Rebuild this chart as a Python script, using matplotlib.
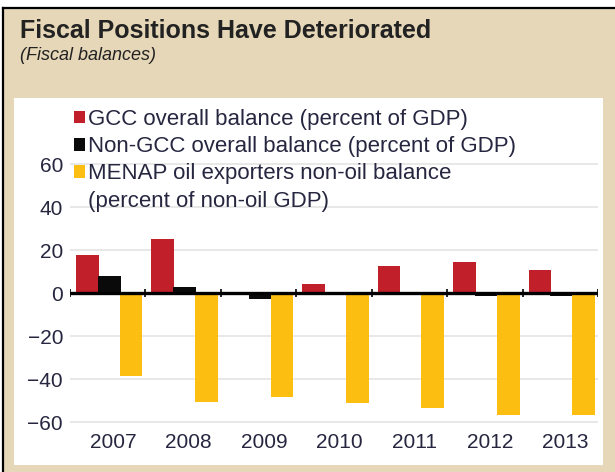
import numpy as np
import matplotlib
matplotlib.use("Agg")
from matplotlib import pyplot as plt
from matplotlib.patches import Rectangle, Patch
from matplotlib.lines import Line2D

# values
years = ["2007", "2008", "2009", "2010", "2011", "2012", "2013"]
gcc = [18.0, 25.0, -0.4, 4.5, 12.6, 14.4, 11.0]
non_gcc = [7.8, 2.8, -2.8, 0.5, 0.2, -1.2, -1.2]
menap = [-38.5, -50.5, -48.5, -51.3, -53.6, -56.7, -56.7]
yticks = [-60, -40, -20, 0, 20, 40, 60]

labels = ["GCC overall balance (percent of GDP)",
          "Non-GCC overall balance (percent of GDP)",
          "MENAP oil exporters non-oil balance",
          "(percent of non-oil GDP)"]

RED = "#C1202B"
BLACK = "#0a0a0a"
YELLOW = "#FDBE12"
TAN = "#E5D7B7"
TXT = "#262640"

plt.rcParams['font.family'] = ['Liberation Sans', 'DejaVu Sans']

W, H = 615, 472
fig = plt.figure(figsize=(W / 100, H / 100), dpi=100)
fig.patch.set_facecolor("white")

# tan frame, black top/left border, white chart panel
fig.patches.append(Rectangle((3 / W, 0), 1, 1 - 7.5 / H, transform=fig.transFigure,
                             facecolor=TAN, edgecolor="none", zorder=-3))
fig.add_artist(Line2D([3 / W, 1], [1 - 7.5 / H] * 2, transform=fig.transFigure, color="black", lw=1.6))
fig.add_artist(Line2D([3 / W] * 2, [0, 1 - 7.5 / H], transform=fig.transFigure, color="black", lw=1.6))
fig.patches.append(Rectangle((14 / W, 1 - 465 / H), (603 - 14) / W, (465 - 98) / H,
                             transform=fig.transFigure, facecolor="white", edgecolor="none", zorder=-2))

fig.text(20 / W, 1 - 31 / H, "Fiscal Positions Have Deteriorated", fontsize=18, fontweight="bold",
         color="#222222", va="center", ha="left")
fig.text(20 / W, 1 - 56 / H, "(Fiscal balances)", fontsize=13, fontstyle="italic",
         color="#222222", va="center", ha="left")

ax = fig.add_axes([70 / W, 1 - 426.5 / H, (598 - 70) / W, (426.5 - 159.9) / H])
ax.set_facecolor("none")

x = np.arange(len(years))
w = 0.3
b1 = ax.bar(x - 0.27, gcc, w, color=RED, zorder=2)
b2 = ax.bar(x + 0.02, non_gcc, w, color=BLACK, zorder=2)
b3 = ax.bar(x + 0.31, menap, w, color=YELLOW, zorder=2)

ax.set_xlim(-0.5, len(years) - 0.5)
ax.set_ylim(-62, 62)
for yv in yticks:
    if yv != 0:
        ax.axhline(yv, color="#e4e4e4", lw=1.2, zorder=1)
ax.axhline(0, color="black", lw=2.4, zorder=3)
ax.vlines(np.arange(len(years) + 1) - 0.5, -1.8, 1.8, color="black", lw=1.2, zorder=3)

ax.set_yticks(yticks)
ax.set_yticklabels([str(v).replace("-", "\u2212") for v in yticks])
ax.set_xticks(x + 0.07)
ax.set_xticklabels(years)
ax.tick_params(axis="both", length=0, labelsize=15, labelcolor=TXT)
ax.tick_params(axis="y", pad=5)
ax.tick_params(axis="x", pad=5)
for s in ax.spines.values():
    s.set_visible(False)

handles = [b1[0], b2[0], b3[0], Patch(facecolor="none", edgecolor="none")]
leg = fig.legend(handles, labels, loc="upper left", bbox_to_anchor=(74 / W, 1 - 109 / H),
                 frameon=False, fontsize=16, handlelength=0.5, handleheight=0.5,
                 handletextpad=0.15, labelspacing=0.28, borderpad=0, borderaxespad=0)
for t in leg.get_texts():
    t.set_color(TXT)

fig.savefig("out.png", dpi=100)
